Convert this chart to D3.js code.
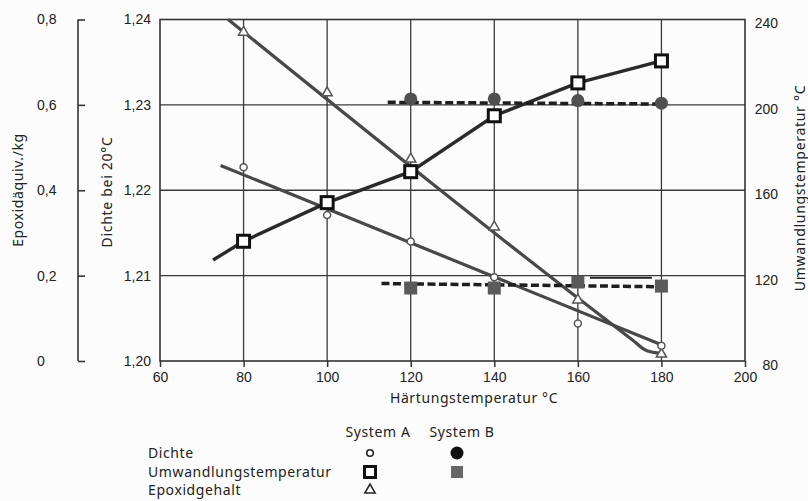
<!DOCTYPE html>
<html>
<head>
<meta charset="utf-8">
<script src="https://cdn.jsdelivr.net/npm/d3@7"></script>
<style>
  body { margin: 0; background: #fcfcfc; }
  svg { font-family: "Noto Sans", "DejaVu Sans", sans-serif; fill: #222; }
  .tick text { font-size: 14px; fill: #222; }
</style>
</head>
<body>
<div id="chart"></div>
<script>
// Härtungstemperatur (x) for the measured points
var temps = [80, 100, 120, 140, 160, 180];
var tempsB = [120, 140, 160, 180];

// System A
var dichteA = [1.2227, 1.2171, 1.2140, 1.2098, 1.2044, 1.2018];
var umwA = [136.1, 154.2, 168.7, 194.9, 210.3, 220.6];
var epoxA = [0.770, 0.628, 0.473, 0.314, 0.143, 0.016];

// fitted / drawn curves of system A  [temp, value]
var dichteAFit = [[74.5, 1.2229], [180, 1.2019]];
var umwAStart = [72.7, 127.3];
var epoxAFit = [[76.3, 0.8], [173, 0.05], [176.5, 0.024], [180, 0.018]];

// System B
var dichteB = [1.2307, 1.2307, 1.2305, 1.2302];
var umwB = [114.2, 114.2, 117.0, 115.1];
var dichteBLine = [[114.5, 1.2303], [180, 1.2301]];
var umwBLine = [[113, 116.3], [180, 114.8]];
var umwBExtra = [[162.9, 119.0], [177.7, 119.0]];

// axis ticks
var xTicks = [60, 80, 100, 120, 140, 160, 180, 200];
var dichteTicks = [1.20, 1.21, 1.22, 1.23, 1.24];
var epoxTicks = [0, 0.2, 0.4, 0.6, 0.8];
var umwTicks = [80, 120, 160, 200, 240];

var W = 808, H = 501;
var pL = 160, pR = 745, pT = 19.5, pB = 361;

var svg = d3.select("#chart").append("svg").attr("width", W).attr("height", H);

var x = d3.scaleLinear().domain([60, 200]).range([pL, pR]);
var yD = d3.scaleLinear().domain([1.20, 1.24]).range([pB, pT]);
var yE = d3.scaleLinear().domain([0, 0.8]).range([pB, pT]);
var yU = d3.scaleLinear().domain([80, 240]).range([pB, pT]);

var comma = function (f) {
    return function (d) { return d3.format(f)(d).replace(".", ","); };
};

// grid
var grid = svg.append("g").attr("stroke", "#3a3a3a").attr("stroke-width", 1.3);
grid.selectAll(".gx").data(xTicks.slice(1, -1)).enter().append("line")
    .attr("x1", function (d) { return x(d); }).attr("x2", function (d) { return x(d); })
    .attr("y1", pT).attr("y2", pB);
grid.selectAll(".gy").data(dichteTicks.slice(1, -1)).enter().append("line")
    .attr("x1", pL).attr("x2", pR)
    .attr("y1", function (d) { return yD(d); }).attr("y2", function (d) { return yD(d); });
svg.append("rect").attr("x", pL).attr("y", pT).attr("width", pR - pL).attr("height", pB - pT)
    .attr("fill", "none").attr("stroke", "#333").attr("stroke-width", 1.6);

// x axis
var xAxis = svg.append("g").attr("transform", "translate(0," + pB + ")")
    .call(d3.axisBottom(x).tickValues(xTicks).tickSize(6).tickPadding(5).tickFormat(d3.format("d")));
xAxis.select(".domain").remove();
xAxis.selectAll("line").attr("stroke", "#333").attr("stroke-width", 1.5);
svg.append("text").attr("x", 474).attr("y", 403).attr("text-anchor", "middle")
    .style("font-size", "14px").style("letter-spacing", "0.6px").text("Härtungstemperatur °C");

// Dichte axis (left of frame)
var dAxis = svg.append("g").attr("transform", "translate(" + pL + ",0)")
    .call(d3.axisLeft(yD).tickValues(dichteTicks).tickSize(0).tickPadding(9).tickFormat(comma(".2f")));
dAxis.select(".domain").remove();
svg.append("text").attr("transform", "translate(112,192) rotate(-90)").attr("text-anchor", "middle")
    .style("font-size", "14px").style("letter-spacing", "0.7px").text("Dichte bei 20°C");

// Epoxid axis (outer left)
var eAxis = svg.append("g").attr("transform", "translate(78,0)")
    .call(d3.axisRight(yE).tickValues(epoxTicks).tickSize(7).tickFormat(function (d) { return d === 0 ? "0" : comma(".1f")(d); }));
eAxis.select(".domain").attr("d", "M0," + pT + "V" + pB).attr("stroke", "#333").attr("stroke-width", 1.6);
eAxis.selectAll("line").attr("stroke", "#333").attr("stroke-width", 1.6);
eAxis.selectAll("text").attr("x", -41).attr("text-anchor", "start");
svg.append("text").attr("transform", "translate(23,190) rotate(-90)").attr("text-anchor", "middle")
    .style("font-size", "14px").style("letter-spacing", "0.6px").text("Epoxidäquiv./kg");

// Umwandlungstemperatur axis (right)
var uAxis = svg.append("g").attr("transform", "translate(" + pR + ",0)")
    .call(d3.axisRight(yU).tickValues(umwTicks).tickSize(0).tickPadding(33).tickFormat(d3.format("d")));
uAxis.select(".domain").remove();
uAxis.selectAll("text").attr("text-anchor", "end").attr("dy", "0.6em");
svg.append("text").attr("transform", "translate(805,188) rotate(-90)").attr("text-anchor", "middle")
    .style("font-size", "14px").style("letter-spacing", "0.7px").text("Umwandlungstemperatur °C");

// lines
var lineD = d3.line().x(function (d) { return x(d[0]); }).y(function (d) { return yD(d[1]); });
var lineE = d3.line().x(function (d) { return x(d[0]); }).y(function (d) { return yE(d[1]); }).curve(d3.curveMonotoneX);
var lineU = d3.line().x(function (d) { return x(d[0]); }).y(function (d) { return yU(d[1]); });

var umwAPts = [umwAStart].concat(temps.map(function (t, i) { return [t, umwA[i]]; }));

svg.append("path").attr("d", lineE(epoxAFit)).attr("fill", "none").attr("stroke", "#484848").attr("stroke-width", 3.2);
svg.append("path").attr("d", lineD(dichteAFit)).attr("fill", "none").attr("stroke", "#484848").attr("stroke-width", 3.2);
svg.append("path").attr("d", lineU(umwAPts)).attr("fill", "none").attr("stroke", "#2a2a2a").attr("stroke-width", 3.4);

svg.append("path").attr("d", lineD(dichteBLine)).attr("fill", "none").attr("stroke", "#1e1e1e")
    .attr("stroke-width", 3.5).attr("stroke-dasharray", "8,3.5");
svg.append("path").attr("d", lineU(umwBLine)).attr("fill", "none").attr("stroke", "#1e1e1e")
    .attr("stroke-width", 3.5).attr("stroke-dasharray", "8,3.5");
svg.append("path").attr("d", lineU(umwBExtra)).attr("fill", "none").attr("stroke", "#222").attr("stroke-width", 1.8);

// markers: system B
svg.selectAll(".bd").data(tempsB).enter().append("circle")
    .attr("cx", function (d) { return x(d); }).attr("cy", function (d, i) { return yD(dichteB[i]); })
    .attr("r", 6.5).attr("fill", "#505050");
svg.selectAll(".bu").data(tempsB).enter().append("rect")
    .attr("x", function (d) { return x(d) - 6.5; }).attr("y", function (d, i) { return yU(umwB[i]) - 6.5; })
    .attr("width", 13).attr("height", 13).attr("fill", "#5a5a5a");

// markers: system A
var tri = d3.symbol().type(d3.symbolTriangle).size(45);
svg.selectAll(".ae").data(temps).enter().append("path")
    .attr("d", tri)
    .attr("transform", function (d, i) { return "translate(" + x(d) + "," + yE(epoxA[i]) + ")"; })
    .attr("fill", "#fff").attr("stroke", "#555").attr("stroke-width", 1.5);
svg.selectAll(".ad").data(temps).enter().append("circle")
    .attr("cx", function (d) { return x(d); }).attr("cy", function (d, i) { return yD(dichteA[i]); })
    .attr("r", 3.5).attr("fill", "#fff").attr("stroke", "#555").attr("stroke-width", 1.5);
svg.selectAll(".au").data(temps).enter().append("rect")
    .attr("x", function (d) { return x(d) - 6; }).attr("y", function (d, i) { return yU(umwA[i]) - 6; })
    .attr("width", 12).attr("height", 12).attr("fill", "#fff").attr("stroke", "#111").attr("stroke-width", 3);

// legend
var lg = svg.append("g").style("font-size", "14px").style("letter-spacing", "0.6px");
var lgRows = ["Dichte", "Umwandlungstemperatur", "Epoxidgehalt"];
var lgY = [453, 472, 490];
var colA = 370, colB = 457;
lg.append("text").attr("x", colA + 8).attr("y", 437).attr("text-anchor", "middle").text("System A");
lg.append("text").attr("x", colB + 5).attr("y", 437).attr("text-anchor", "middle").text("System B");
lg.selectAll(".lt").data(lgRows).enter().append("text")
    .attr("x", 148).attr("y", function (d, i) { return lgY[i] + 5; }).text(function (d) { return d; });
lg.append("circle").attr("cx", colA).attr("cy", lgY[0]).attr("r", 3.3).attr("fill", "#fff").attr("stroke", "#222").attr("stroke-width", 1.6);
lg.append("rect").attr("x", colA - 5.5).attr("y", lgY[1] - 5.5).attr("width", 11).attr("height", 11)
    .attr("fill", "#fff").attr("stroke", "#111").attr("stroke-width", 3);
lg.append("path").attr("d", tri).attr("transform", "translate(" + colA + "," + lgY[2] + ")")
    .attr("fill", "#fff").attr("stroke", "#222").attr("stroke-width", 1.6);
lg.append("circle").attr("cx", colB).attr("cy", lgY[0]).attr("r", 6.5).attr("fill", "#111");
lg.append("rect").attr("x", colB - 6).attr("y", lgY[1] - 6).attr("width", 12).attr("height", 12).attr("fill", "#666");
</script>
</body>
</html>
